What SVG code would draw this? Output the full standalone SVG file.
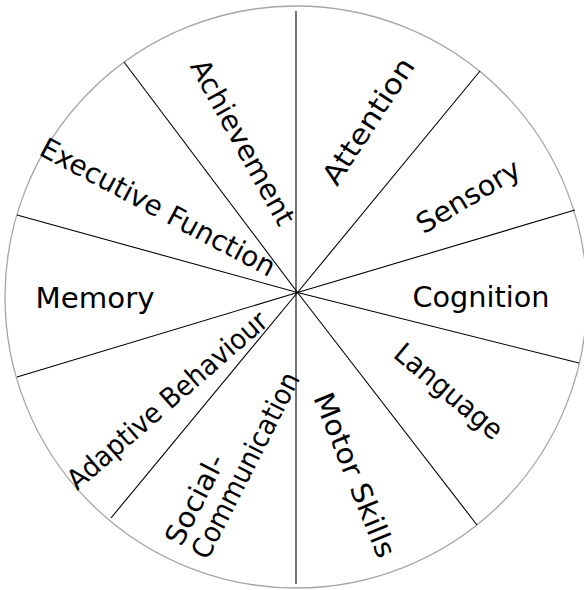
<svg xmlns="http://www.w3.org/2000/svg" width="584" height="590" viewBox="0 0 584 590">
  <style>
    .rim { fill: #ffffff; stroke: #a6a6a6; stroke-width: 1.3; }
    .spoke { stroke: #000000; stroke-width: 1.1; fill: none; }
    .lbl { font-family: "DejaVu Sans", "Noto Sans", sans-serif; font-size: 28px; fill: #000000; text-anchor: middle; }
    .lbl-start { font-family: "DejaVu Sans", "Noto Sans", sans-serif; font-size: 28px; fill: #000000; text-anchor: start; }
  </style>
  <rect width="584" height="590" fill="#ffffff"/>

  <!-- wheel outline -->
  <circle class="rim" cx="296" cy="297" r="291"/>

  <!-- dividing spokes -->
  <g id="connectors">
    <line class="spoke" x1="296" y1="11" x2="296" y2="584"/>
    <line class="spoke" x1="297.5" y1="292.5" x2="124" y2="62"/>
    <line class="spoke" x1="297.5" y1="292.5" x2="480" y2="71"/>
    <line class="spoke" x1="297.5" y1="292.5" x2="575" y2="210"/>
    <line class="spoke" x1="297.5" y1="292.5" x2="579" y2="363"/>
    <line class="spoke" x1="297.5" y1="292.5" x2="477" y2="525"/>
    <line class="spoke" x1="297.5" y1="292.5" x2="111" y2="518"/>
    <line class="spoke" x1="297.5" y1="292.5" x2="17" y2="377"/>
    <line class="spoke" x1="297.5" y1="292.5" x2="17" y2="215"/>
  </g>

  <!-- sector labels -->
  <g id="attention" transform="translate(368,121) rotate(-57)">
    <text class="lbl" x="0" y="10" textLength="145" lengthAdjust="spacingAndGlyphs">Attention</text>
  </g>
  <g id="sensory" transform="translate(468,196) rotate(-31)">
    <text class="lbl" x="0" y="10" textLength="116" lengthAdjust="spacingAndGlyphs">Sensory</text>
  </g>
  <g id="cognition" transform="translate(481,297)">
    <text class="lbl" x="0" y="10" textLength="137" lengthAdjust="spacingAndGlyphs">Cognition</text>
  </g>
  <g id="language" transform="translate(449,391) rotate(40)">
    <text class="lbl" x="0" y="10" textLength="132" lengthAdjust="spacingAndGlyphs">Language</text>
  </g>
  <g id="motor-skills" transform="translate(355,475) rotate(68)">
    <text class="lbl" x="0" y="10" textLength="175" lengthAdjust="spacingAndGlyphs">Motor Skills</text>
  </g>
  <g id="social-communication" transform="translate(232,459) rotate(-63)">
    <text class="lbl-start" x="-102" y="-5" textLength="98" lengthAdjust="spacingAndGlyphs">Social-</text>
    <text class="lbl-start" x="-102" y="24.5" textLength="205" lengthAdjust="spacingAndGlyphs">Communication</text>
  </g>
  <g id="adaptive-behaviour" transform="translate(167,400) rotate(-41)">
    <text class="lbl" x="0" y="10" textLength="255" lengthAdjust="spacingAndGlyphs">Adaptive Behaviour</text>
  </g>
  <g id="memory" transform="translate(95,298)">
    <text class="lbl" x="0" y="10" textLength="119" lengthAdjust="spacingAndGlyphs">Memory</text>
  </g>
  <g id="executive-function" transform="translate(158,207) rotate(28)">
    <text class="lbl" x="0" y="10" textLength="262" lengthAdjust="spacingAndGlyphs">Executive Function</text>
  </g>
  <g id="achievement" transform="translate(243,142) rotate(61)">
    <text class="lbl" x="0" y="10" textLength="185" lengthAdjust="spacingAndGlyphs">Achievement</text>
  </g>
</svg>
